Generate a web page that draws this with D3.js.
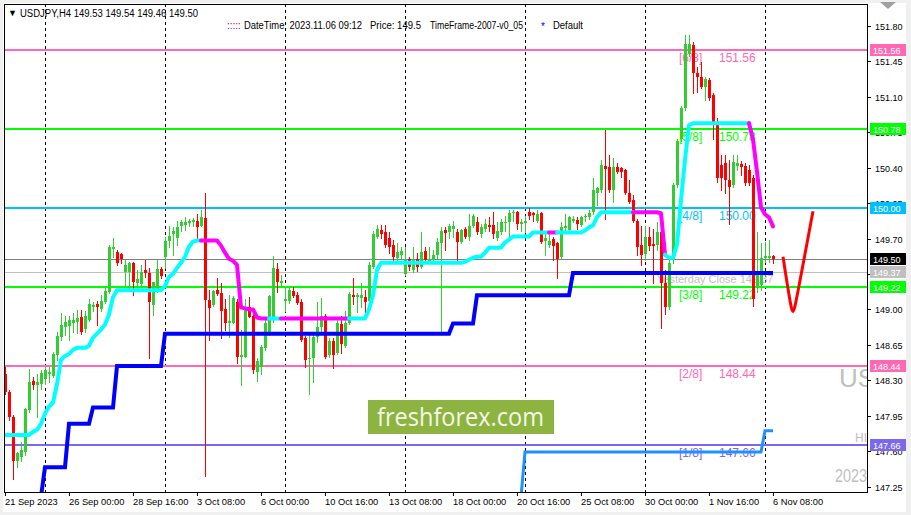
<!DOCTYPE html>
<html>
<head>
<meta charset="utf-8">
<script src="https://cdn.jsdelivr.net/npm/d3@7/dist/d3.min.js"></script>
<style>
html, body { margin: 0; padding: 0; background: #fff; }
svg { display: block; font-family: "Liberation Sans", Arial, sans-serif; }
</style>
</head>
<body>
<div id="viz_canvas"></div>
<script>
"use strict";

// USDJPY H4, bar 0 = 21 Sep 2023 08:00, weekends skipped. [open, high, low, close]
var ohlc = [
    [148.36,148.43,148.16,148.18],[148.18,148.20,147.91,147.94],[147.94,147.96,147.32,147.50],[147.50,147.59,147.44,147.58],
    [147.54,147.69,147.50,147.61],[147.59,148.03,147.56,148.02],[148.01,148.41,147.99,148.28],[148.29,148.33,148.21,148.25],
    [148.25,148.36,147.94,148.28],[148.26,148.40,148.21,148.37],[148.31,148.43,148.26,148.40],[148.36,148.43,148.28,148.38],
    [148.34,148.58,148.33,148.56],[148.55,148.78,148.50,148.74],[148.73,148.96,148.70,148.85],[148.83,148.93,148.75,148.88],
    [148.84,148.93,148.70,148.90],[148.87,148.96,148.78,148.90],[148.88,148.99,148.77,148.91],[148.92,148.99,148.76,148.78],
    [148.81,148.98,148.78,148.93],[148.90,149.10,148.89,149.05],[149.02,149.07,148.98,149.04],[149.05,149.08,148.85,149.02],
    [149.00,149.14,148.98,149.08],[149.07,149.22,149.06,149.18],[149.17,149.64,149.16,149.62],[149.60,149.71,149.52,149.62],
    [149.57,149.59,149.44,149.46],[149.55,149.56,149.46,149.50],[149.37,149.49,149.22,149.44],[149.37,149.47,149.21,149.46],
    [149.46,149.47,149.14,149.27],[149.26,149.39,149.19,149.30],[149.25,149.44,149.22,149.37],[149.39,149.49,149.32,149.36],
    [149.36,149.41,148.52,149.07],[149.04,149.27,148.94,149.27],[149.19,149.49,149.17,149.40],[149.40,149.42,149.31,149.33],
    [149.52,149.72,149.41,149.68],[149.68,149.82,149.62,149.73],[149.74,149.81,149.54,149.77],[149.71,149.87,149.64,149.81],
    [149.82,149.88,149.77,149.86],[149.83,149.91,149.78,149.86],[149.85,149.89,149.82,149.87],[149.86,149.90,149.82,149.88],
    [149.87,149.94,149.71,149.81],[149.82,149.98,149.82,149.91],[149.90,150.15,147.35,149.09],[149.09,149.19,148.70,149.01],
    [149.04,149.19,149.03,149.18],[149.19,149.31,149.14,149.15],[149.16,149.26,148.72,148.98],[149.00,149.10,148.80,148.87],
    [148.87,149.14,148.73,148.89],[148.87,149.13,148.87,149.11],[149.07,149.10,148.47,148.53],[148.53,148.80,148.25,148.55],
    [148.53,149.10,148.53,149.02],[149.02,149.12,148.92,148.92],[148.93,148.95,148.37,148.40],[148.38,148.52,148.29,148.49],
    [148.43,148.65,148.36,148.63],[148.62,148.90,148.60,148.87],[148.77,149.14,148.75,149.13],[148.90,149.53,148.88,149.41],
    [149.40,149.46,149.17,149.27],[149.26,149.34,149.22,149.28],[149.08,149.22,148.98,149.10],[149.08,149.21,149.06,149.19],
    [149.18,149.22,149.12,149.13],[149.14,149.17,149.05,149.06],[149.07,149.10,148.69,148.70],[148.72,148.74,148.43,148.50],
    [148.51,148.75,148.16,148.52],[148.52,148.75,148.28,148.73],[148.73,149.07,148.68,148.83],[148.83,149.11,148.77,148.93],
    [148.93,148.95,148.52,148.53],[148.55,148.72,148.53,148.69],[148.69,148.72,148.42,148.55],[148.57,148.90,148.56,148.87],
    [148.86,148.93,148.57,148.66],[148.64,148.98,148.63,148.87],[148.87,149.17,148.86,149.15],[149.14,149.31,149.05,149.12],
    [149.12,149.16,148.97,149.14],[149.11,149.26,149.02,149.14],[149.12,149.19,148.95,149.07],[149.08,149.47,149.07,149.44],
    [149.42,149.77,149.41,149.74],[149.72,149.83,149.71,149.79],[149.78,149.83,149.71,149.74],[149.76,149.83,149.62,149.64],
    [149.71,149.76,149.56,149.62],[149.64,149.69,149.47,149.52],[149.51,149.66,149.47,149.57],[149.54,149.62,149.51,149.58],
    [149.35,149.62,149.34,149.49],[149.50,149.52,149.39,149.42],[149.39,149.62,149.37,149.49],[149.50,149.56,149.38,149.42],
    [149.42,149.76,149.41,149.57],[149.58,149.62,149.47,149.49],[149.48,149.62,149.47,149.50],[149.49,149.59,149.47,149.54],
    [149.54,149.71,149.51,149.67],[149.66,149.81,148.77,149.77],[149.78,149.81,149.59,149.75],[149.76,149.84,149.71,149.82],
    [149.79,149.87,149.72,149.82],[149.76,149.79,149.47,149.67],[149.67,149.79,149.66,149.78],[149.79,149.81,149.71,149.72],
    [149.72,149.94,149.69,149.82],[149.82,149.94,149.81,149.92],[149.86,149.91,149.74,149.76],[149.74,149.84,149.72,149.81],
    [149.79,149.89,149.77,149.84],[149.83,149.91,149.77,149.81],[149.83,149.96,149.71,149.74],[149.71,149.86,149.69,149.77],
    [149.76,149.89,149.74,149.86],[149.85,149.92,149.77,149.86],[149.86,149.98,149.69,149.95],[149.95,149.98,149.87,149.96],
    [149.96,149.97,149.79,149.84],[149.84,149.89,149.77,149.86],[149.85,149.92,149.76,149.87],[149.96,150.00,149.89,149.92],
    [149.95,149.96,149.87,149.93],[149.87,149.98,149.86,149.94],[149.95,149.96,149.66,149.67],[149.68,149.77,149.54,149.71],
    [149.64,149.76,149.62,149.68],[149.70,149.72,149.49,149.63],[149.66,149.67,149.31,149.50],[149.52,149.86,149.51,149.81],
    [149.80,149.94,149.78,149.82],[149.78,149.92,149.77,149.91],[149.87,149.92,149.86,149.89],[149.88,149.91,149.79,149.84],
    [149.83,149.92,149.82,149.91],[149.91,149.94,149.87,149.92],[149.91,149.98,149.89,149.95],[149.96,150.30,149.94,150.18],
    [150.15,150.21,150.03,150.20],[150.18,150.48,150.16,150.43],[150.42,150.77,149.89,150.39],[150.41,150.53,150.16,150.18],
    [150.18,150.50,150.06,150.41],[150.41,150.45,150.35,150.36],[150.40,150.41,150.31,150.36],[150.38,150.39,150.14,150.15],
    [150.15,150.28,150.05,150.06],[150.08,150.13,149.86,149.87],[149.87,149.89,149.54,149.62],[149.64,149.82,149.44,149.54],
    [149.55,149.82,149.49,149.72],[149.72,149.81,149.59,149.63],[149.65,149.79,149.26,149.63],[149.64,149.86,149.59,149.76],
    [149.76,149.81,148.82,149.26],[149.26,149.39,148.95,149.02],[149.02,149.49,149.00,149.46],[149.49,150.25,149.46,150.23],
    [150.23,150.68,150.21,150.66],[150.68,151.01,150.66,150.99],[150.99,151.71,150.97,151.62],[151.52,151.71,151.50,151.62],
    [151.61,151.64,151.14,151.34],[151.34,151.39,151.15,151.30],[151.30,151.44,151.19,151.20],[151.20,151.30,151.07,151.28],
    [151.27,151.29,151.07,151.09],[151.12,151.14,150.68,150.82],[150.85,150.89,150.26,150.30],[150.43,150.53,150.18,150.30],
    [150.45,150.53,150.15,150.28],[150.28,150.48,149.84,150.21],[150.23,150.53,150.21,150.46],[150.42,150.53,150.38,150.45],
    [150.44,150.47,150.33,150.41],[150.42,150.45,150.23,150.25],[150.38,150.43,150.23,150.25],[150.30,150.33,149.03,149.10],
    [149.23,149.76,149.17,149.34],[149.24,149.66,149.19,149.51],[149.51,149.67,149.47,149.53],[149.51,149.69,149.47,149.53],
    [149.53,149.54,149.46,149.50]
];

// trailing stop line, one value per bar
var trail = [
    147.76,147.76,147.76,147.76,147.76,147.76,147.76,147.79,147.81,147.87,
    147.97,148.04,148.08,148.26,148.50,148.54,148.56,148.60,148.62,148.62,
    148.62,148.64,148.72,148.76,148.80,148.85,148.95,149.12,149.19,149.19,
    149.19,149.19,149.19,149.19,149.19,149.19,149.19,149.19,149.19,149.19,
    149.23,149.32,149.35,149.41,149.46,149.52,149.62,149.67,149.68,149.68,
    149.68,149.68,149.68,149.68,149.63,149.56,149.50,149.48,149.44,149.02,
    149.01,149.00,149.00,148.92,148.91,148.91,148.91,148.91,148.91,148.91,
    148.91,148.91,148.91,148.91,148.91,148.91,148.91,148.91,148.91,148.91,
    148.91,148.91,148.91,148.91,148.91,148.91,148.91,148.91,148.91,148.91,
    148.91,149.00,149.14,149.39,149.46,149.46,149.46,149.46,149.46,149.46,
    149.46,149.46,149.46,149.46,149.46,149.46,149.46,149.46,149.46,149.46,
    149.46,149.46,149.46,149.46,149.46,149.47,149.49,149.51,149.52,149.52,
    149.56,149.61,149.61,149.61,149.61,149.66,149.69,149.72,149.72,149.72,
    149.72,149.72,149.76,149.76,149.76,149.76,149.76,149.76,149.76,149.76,
    149.76,149.76,149.76,149.76,149.76,149.78,149.81,149.83,149.91,149.96,
    149.96,149.96,149.96,149.96,149.96,149.96,149.96,149.96,149.96,149.96,
    149.96,149.96,149.96,149.96,149.95,149.54,149.51,149.51,149.64,150.08,
    150.48,150.82,150.84,150.84,150.84,150.84,150.84,150.84,150.84,150.84,
    150.84,150.84,150.84,150.84,150.84,150.84,150.84,150.68,150.36,150.01,
    149.94,149.91,149.82
];
// bars where the trailing line is above price (drawn magenta)
var trailDown = [[50, 66], [70, 86], [137, 138], [158, 165], [187, 192]];

var supportSteps = [[9, 147.15], [10, 147.44], [15, 147.44], [16, 147.87], [21, 147.87], [22, 148.03],
    [27, 148.03], [28, 148.44], [39, 148.44], [40, 148.76], [111, 148.76], [112, 148.86], [117, 148.86],
    [118, 149.14], [141, 149.14], [142, 149.36], [192, 149.36]];
var lowSteps = [[129, 147.15], [130, 147.59], [189, 147.59], [190, 147.80], [192, 147.80]];
var projection = [[194.5, 149.52], [196.3, 149.06], [197.0, 148.94], [197.7, 149.06], [202, 149.97]];

var murreyPrices = [151.56, 150.78, 150.00, 149.22, 148.44, 147.66];
var murreyNames = ["[6/8]", "[5/8]", "[4/8]", "[3/8]", "[2/8]", "[1/8]"];
var bidPrice = 149.50;
var yesterdayClose = 149.37;

var priceTicks = [151.80, 151.45, 151.10, 150.75, 150.40, 150.05, 149.70, 149.35, 149.00, 148.65, 148.30, 147.95, 147.60, 147.25];
var timeLabels = ["21 Sep 2023", "26 Sep 00:00", "28 Sep 16:00", "3 Oct 08:00", "6 Oct 00:00", "10 Oct 16:00",
    "13 Oct 08:00", "18 Oct 00:00", "20 Oct 16:00", "25 Oct 08:00", "30 Oct 00:00", "1 Nov 16:00", "6 Nov 08:00"];
var labelEvery = 16;
var weekStarts = [10, 40, 70, 100, 130, 160, 190];

var murreyColors = ["#ff69b4", "#00ff00", "#00bfff", "#00ff00", "#ff69b4", "#7b68ee"];
var upColor = "#32cd32", downColor = "#ff0000";

var svg = d3.select("#viz_canvas").append("svg").attr("width", 911).attr("height", 515);
var frame = {l: 4, t: 4, r: 867, b: 492};

var x = d3.scaleLinear().domain([0, 192]).range([5, 773]);
var y = d3.scaleLinear().domain([147.25, 151.80]).range([486.5, 26]);
var py = p => Math.round(y(p));

function fit(sel, w) {
    return sel.attr("textLength", w).attr("lengthAdjust", "spacingAndGlyphs");
}

// window chrome
svg.append("rect").attr("width", 911).attr("height", 515).attr("fill", "#f0f0f0");
svg.append("rect").attr("x", 3).attr("y", 3).attr("width", 903).attr("height", 509).attr("fill", "#fff");
svg.append("path").attr("d", "M880,2L896,2L888,9Z").attr("fill", "#a0a0a0");

svg.append("defs").append("clipPath").attr("id", "plotClip").append("rect")
    .attr("x", frame.l + 1).attr("y", frame.t + 1)
    .attr("width", frame.r - frame.l - 1).attr("height", frame.b - frame.t - 1);

var chart = svg.append("g").attr("clip-path", "url(#plotClip)");

// weekly separators
chart.append("g").selectAll("line").data(weekStarts).enter().append("line")
    .attr("x1", d => x(d) + 0.5).attr("x2", d => x(d) + 0.5)
    .attr("y1", frame.t).attr("y2", frame.b)
    .attr("stroke", "#000").attr("stroke-dasharray", "3,3");

// watermark texts, cut by the price scale
var wm = chart.append("g").attr("fill", "#c0c0c0");
wm.append("text").attr("x", 839).attr("y", 387).attr("font-size", 26).text("US");
wm.append("text").attr("x", 855).attr("y", 442).attr("font-size", 12).text("HI");
fit(wm.append("text").attr("x", 835).attr("y", 482).attr("font-size", 18).text("2023"), 32);

// horizontal levels
var levels = chart.append("g");
levels.selectAll("line.murrey").data(murreyPrices).enter().append("line")
    .attr("x1", frame.l).attr("x2", frame.r)
    .attr("y1", d => py(d)).attr("y2", d => py(d))
    .attr("stroke", (d, i) => murreyColors[i]).attr("stroke-width", 2);
levels.append("line").attr("x1", frame.l).attr("x2", frame.r)
    .attr("y1", py(bidPrice) + 0.5).attr("y2", py(bidPrice) + 0.5).attr("stroke", "#808080");
levels.append("line").attr("x1", frame.l).attr("x2", frame.r)
    .attr("y1", py(yesterdayClose) + 0.5).attr("y2", py(yesterdayClose) + 0.5).attr("stroke", "#c0c0c0");

var mLabels = chart.append("g").attr("font-size", 12);
mLabels.selectAll("text.name").data(murreyPrices).enter().append("text")
    .attr("x", 679).attr("y", d => py(d) + 12)
    .attr("fill", (d, i) => murreyColors[i]).text((d, i) => murreyNames[i]);
mLabels.selectAll("text.val").data(murreyPrices).enter().append("text")
    .attr("x", 719).attr("y", d => py(d) + 12)
    .attr("fill", (d, i) => murreyColors[i]).text(d => d.toFixed(2));
chart.append("text").attr("x", 657).attr("y", py(yesterdayClose) + 11).attr("font-size", 11)
    .attr("fill", "#c0c0c0").text("Yesterday Close " + yesterdayClose.toFixed(2));

// logo
var logo = chart.append("g");
logo.append("rect").attr("x", 368).attr("y", 400).attr("width", 186).attr("height", 34).attr("fill", "#8db440");
fit(logo.append("text").attr("x", 377).attr("y", 426).attr("font-family", "'Open Sans', sans-serif")
    .attr("font-size", 25).attr("fill", "#f4f8ea").text("freshforex.com"), 167);

// candles
var candle = chart.append("g").attr("shape-rendering", "crispEdges")
    .selectAll("g").data(ohlc).enter().append("g")
    .attr("fill", d => d[3] >= d[0] ? upColor : downColor)
    .attr("stroke", d => d[3] >= d[0] ? upColor : downColor);
candle.append("line")
    .attr("x1", (d, i) => x(i) + 0.5).attr("x2", (d, i) => x(i) + 0.5)
    .attr("y1", d => py(d[1])).attr("y2", d => py(d[2]) + 1);
candle.append("rect").attr("stroke", "none")
    .attr("x", (d, i) => x(i) - 1).attr("width", 3)
    .attr("y", d => py(Math.max(d[0], d[3])))
    .attr("height", d => Math.max(1, py(Math.min(d[0], d[3])) - py(Math.max(d[0], d[3]))));

// trailing line, split in colour runs
function isDown(i) {
    return trailDown.some(r => i >= r[0] && i <= r[1]);
}
var runs = [];
for (var i = 1; i < trail.length; i++) {
    var down = isDown(i);
    if (!runs.length || runs[runs.length - 1].down !== down) runs.push({down: down, pts: [i - 1]});
    runs[runs.length - 1].pts.push(i);
}
var trailLine = d3.line().x(i => x(i)).y(i => y(trail[i]));
chart.append("g").selectAll("path").data(runs).enter().append("path")
    .attr("d", r => trailLine(r.pts))
    .attr("fill", "none").attr("stroke", r => r.down ? "#ff00ff" : "#00ffff")
    .attr("stroke-width", 4).attr("stroke-linejoin", "round").attr("stroke-linecap", "round");

var stepLine = d3.line().x(d => x(d[0])).y(d => y(d[1]));
chart.append("path").attr("d", stepLine(supportSteps))
    .attr("fill", "none").attr("stroke", "#0000ff").attr("stroke-width", 4);
chart.append("path").attr("d", stepLine(lowSteps))
    .attr("fill", "none").attr("stroke", "#1e90ff").attr("stroke-width", 3);

chart.append("path").attr("d", d3.line().curve(d3.curveBasis).x(d => x(d[0])).y(d => y(d[1]))(projection))
    .attr("fill", "none").attr("stroke", "#ff0000").attr("stroke-width", 3);

// header
var head = chart.append("g").attr("font-size", 10).attr("fill", "#000").style("white-space", "pre");
head.append("text").attr("x", 8).attr("y", 16).attr("font-size", 9).text("\u25BC");
fit(head.append("text").attr("x", 20).attr("y", 16.5).text("USDJPY,H4  149.53 149.54 149.46 149.50"), 178);
head.append("text").attr("x", 227).attr("y", 28.5).attr("fill", "#8b008b").text(":::::");
fit(head.append("text").attr("x", 244).attr("y", 28.5).text("DateTime: 2023.11.06 09:12"), 118);
fit(head.append("text").attr("x", 370).attr("y", 28.5).text("Price: 149.5"), 51);
fit(head.append("text").attr("x", 430).attr("y", 28.5).text("TimeFrame-2007-v0_05"), 93);
head.append("text").attr("x", 541).attr("y", 30).attr("fill", "#0000ff").text("*");
fit(head.append("text").attr("x", 553).attr("y", 28.5).text("Default"), 30);

// frame
svg.append("rect").attr("x", frame.l + 0.5).attr("y", frame.t + 0.5)
    .attr("width", frame.r - frame.l).attr("height", frame.b - frame.t)
    .attr("fill", "none").attr("stroke", "#000");

// price scale
var pAxis = svg.append("g");
pAxis.selectAll("line").data(priceTicks).enter().append("line")
    .attr("x1", frame.r).attr("x2", frame.r + 4)
    .attr("y1", d => py(d) + 0.5).attr("y2", d => py(d) + 0.5).attr("stroke", "#000");
pAxis.selectAll("text").data(priceTicks).enter().append("text")
    .attr("x", 875).attr("y", d => py(d) + 3.5).attr("font-size", 9).attr("fill", "#000")
    .text(d => d.toFixed(2));

var boxes = murreyPrices.map((p, i) => ({p: p, fill: murreyColors[i]}))
    .concat([{p: bidPrice, fill: "#000"}, {p: yesterdayClose, fill: "#c0c0c0"}]);
var box = svg.append("g").selectAll("g").data(boxes).enter().append("g");
box.append("rect").attr("x", 870).attr("y", d => py(d.p) - 6).attr("width", 36).attr("height", 12)
    .attr("fill", d => d.fill);
box.append("text").attr("x", 873).attr("y", d => py(d.p) + 3.5).attr("font-size", 9).attr("fill", "#fff")
    .text(d => d.p.toFixed(2));

// time scale
var tAxis = svg.append("g");
tAxis.selectAll("line").data(timeLabels).enter().append("line")
    .attr("x1", (d, i) => x(i * labelEvery) + 0.5).attr("x2", (d, i) => x(i * labelEvery) + 0.5)
    .attr("y1", frame.b).attr("y2", frame.b + 4).attr("stroke", "#000");
tAxis.selectAll("text").data(timeLabels).enter().append("text")
    .attr("x", (d, i) => x(i * labelEvery)).attr("y", 505).attr("font-size", 9.3).attr("fill", "#000")
    .text(d => d);
</script>
</body>
</html>
